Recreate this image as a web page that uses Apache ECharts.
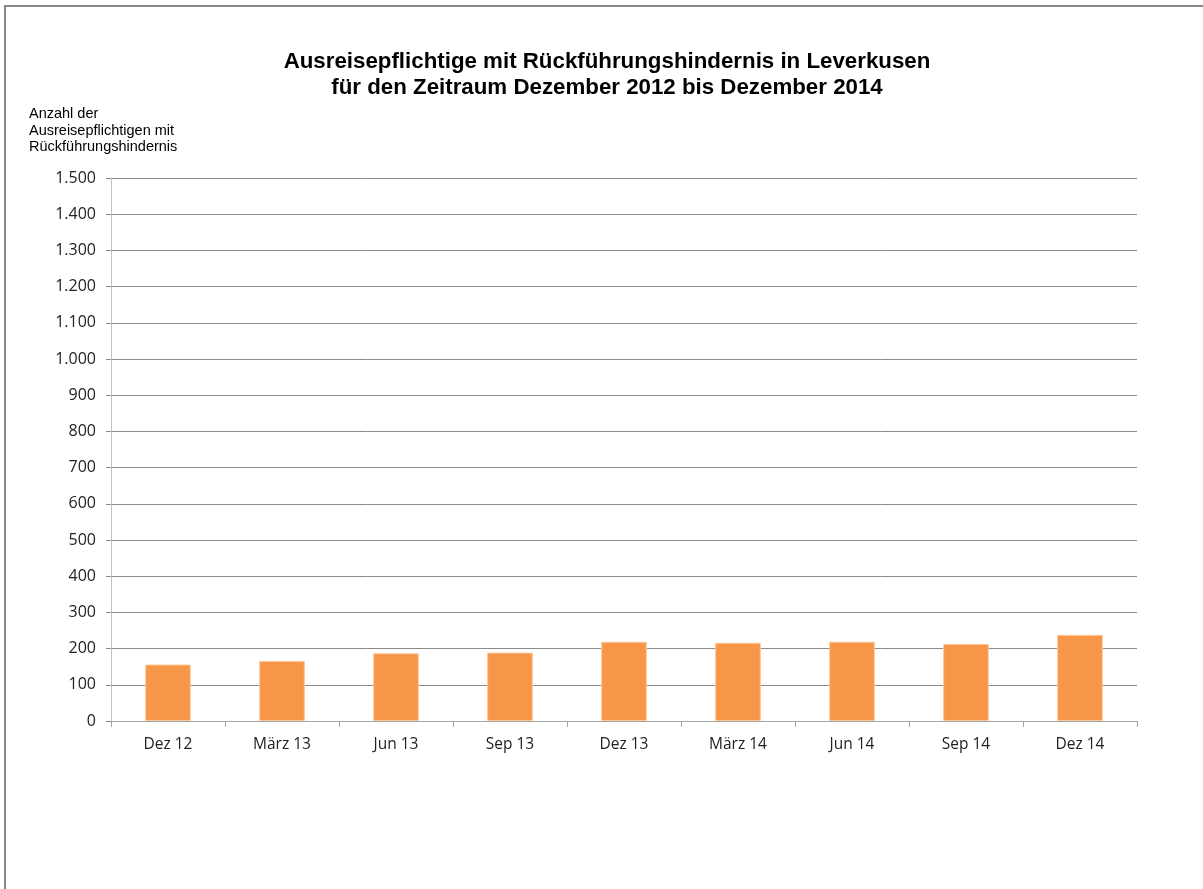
<!DOCTYPE html>
<html>
<head>
<meta charset="utf-8">
<script src="https://cdn.jsdelivr.net/npm/echarts@6/dist/echarts.min.js"></script>
<style>
html,body{margin:0;padding:0;background:#fff;}
#c{width:1203px;height:889px;}
</style>
</head>
<body>
<div id="c"></div>
<script>
const categories = ['Dez 12', 'März 13', 'Jun 13', 'Sep 13', 'Dez 13', 'März 14', 'Jun 14', 'Sep 14', 'Dez 14'];
const values = [156, 166, 187, 189, 219, 216, 219, 213, 238];
const titleLines = ['Ausreisepflichtige mit Rückführungshindernis in Leverkusen', 'für den Zeitraum Dezember 2012 bis Dezember 2014'];
const yAxisNameLines = ['Anzahl der', 'Ausreisepflichtigen mit', 'Rückführungshindernis'];

function fmt(v) {
  const s = String(Math.round(v));
  return s.replace(/\B(?=(\d{3})+(?!\d))/g, '.');
}

const chart = echarts.init(document.getElementById('c'));
chart.setOption({
  backgroundColor: '#fff',
  animation: false,
  title: {
    text: titleLines.join('\n'),
    left: 602, top: 44, textAlign: 'center',
    textStyle: { fontFamily: 'Liberation Sans, Arial', fontWeight: 'bold', fontSize: 22.3, lineHeight: 26, color: '#000' }
  },
  graphic: [
    { type: 'polyline', shape: { points: [[5, 889], [5, 6], [1203, 6]] }, style: { stroke: '#888', lineWidth: 2, fill: null } },
    { type: 'text', left: 29, top: 106, style: { text: yAxisNameLines.join('\n'), font: '14.5px "Liberation Sans", Arial', lineHeight: 16.5, fill: '#000' } }
  ],
  grid: { left: 111, right: 66, top: 178, bottom: 168 },
  xAxis: {
    type: 'category', data: categories, boundaryGap: true,
    axisLine: { lineStyle: { color: '#a6a6a6', width: 1 } },
    axisTick: { show: true, alignWithLabel: false, length: 6, lineStyle: { color: '#a6a6a6' } },
    axisLabel: { fontFamily: 'Open Sans, Lato, sans-serif', fontSize: 15.5, color: '#222', margin: 16 }
  },
  yAxis: {
    type: 'value', min: 0, max: 1500, interval: 100,
    axisLine: { show: true, lineStyle: { color: '#c0c0c0', width: 1 } },
    axisTick: { show: true, length: 5, lineStyle: { color: '#888' } },
    splitLine: { lineStyle: { color: '#8c8c8c', width: 1 } },
    axisLabel: { fontFamily: 'Open Sans, Lato, sans-serif', fontSize: 16, color: '#222', margin: 15, formatter: fmt }
  },
  series: [{
    type: 'bar', data: values, barWidth: '40%',
    itemStyle: { color: '#F79646', borderColor: '#fbc89c', borderWidth: 1 }
  }]
});
</script>
</body>
</html>
